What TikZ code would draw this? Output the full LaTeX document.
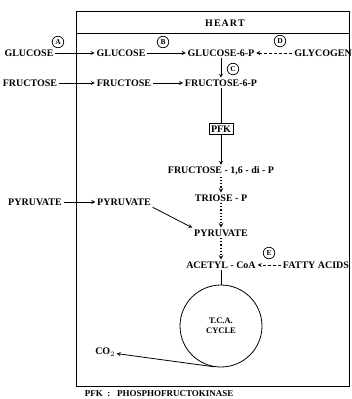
\documentclass[tikz,border=0pt]{standalone}
\usepackage{fontspec}
\setmainfont{Liberation Serif}
\begin{document}
\begin{tikzpicture}
   [x=1pt, y=-1pt, line width=0.8pt,
    met node/.style={font=\fontsize{10}{11}\selectfont\bfseries, inner sep=1.5pt},
    tag node/.style={circle, draw, line width=0.7pt, inner sep=0pt, minimum size=11.5pt,
       font=\fontsize{7.5}{7.5}\selectfont\bfseries},
    dash line/.style={-stealth, dash pattern=on 3pt off 2pt},
    dot line/.style={-stealth, line width=1.1pt, dash pattern=on 1.1pt off 2pt}]
   \useasboundingbox (0,0) rectangle (351,399);

   % heart compartment
   \draw[line width=1pt] (76,11) rectangle (349.5,386);
   \draw[line width=1pt] (76,33) -- (349.5,33);
   \node[met node] (heart) at (225,23) {H\kern1ptE\kern1ptA\kern1ptR\kern1ptT};

   \node[met node] (glc0) at (29,53) {GLUCOSE};
   \node[met node] (glc1) at (121,53) {GLUCOSE};
   \node[met node] (g6p) at (221,53) {GLUCOSE-6-P};
   \node[met node] (glyc) at (323,53) {GLYCOGEN};
   \node[met node] (fru0) at (30,83) {FRUCTOSE};
   \node[met node] (fru1) at (124,83) {FRUCTOSE};
   \node[met node] (f6p) at (221,83) {FRUCTOSE-6-P};
   \node[met node, draw, line width=1pt, inner sep=2pt] (pfk) at (221,129) {PFK};
   \node[met node] (f16) at (221,171) {FRUCTOSE - 1,6 - di - P};
   \node[met node] (trio) at (221,198) {TRIOSE - P};
   \node[met node] (pyr0) at (35,202) {PYRUVATE};
   \node[met node] (pyr1) at (124,202) {PYRUVATE};
   \node[met node] (pyr) at (221,233) {PYRUVATE};
   \node[met node] (acoa) at (221,265) {ACETYL - CoA};
   \node[met node] (fatty) at (316,265) {FATTY ACIDS};
   \node[circle, draw, minimum size=82pt, align=center,
      font=\fontsize{8.5}{10}\selectfont\bfseries] (tca) at (221,326) {T.C.A.\\CYCLE};
   \node[met node] (co2) at (105,352) {CO$_2$};

   \node[tag node] (ta) at (58,42) {A};
   \node[tag node] (tb) at (163,42) {B};
   \node[tag node] (tc) at (233,69) {C};
   \node[tag node] (td) at (280,41) {D};
   \node[tag node] (te) at (269,253) {E};

   \draw[-stealth] (glc0) -- (glc1);
   \draw[-stealth] (glc1) -- (g6p);
   \draw[dash line] (glyc) -- (g6p);
   \draw[-stealth] (g6p) -- (f6p);
   \draw[-stealth] (fru0) -- (fru1);
   \draw[-stealth] (fru1) -- (f6p);
   \draw (f6p) -- (pfk);
   \draw[-stealth] (pfk) -- (f16);
   \draw[dot line] (f16) -- (trio);
   \draw[dot line] (trio) -- (pyr);
   \draw[-stealth] (pyr0) -- (pyr1);
   \draw[-stealth] (pyr1.south east) -- (pyr.north west);
   \draw[dot line] (pyr) -- (acoa);
   \draw[dash line] (fatty) -- (acoa);
   \draw (acoa) -- (tca);
   \draw[-stealth] (tca.-100) -- (co2);

   \node[met node, anchor=west, font=\fontsize{9}{10}\selectfont\bfseries] (key) at (83,394)
      {PFK\ \ :\ \ \ PHOSPHOFRUCTOKINASE};
\end{tikzpicture}
\end{document}
